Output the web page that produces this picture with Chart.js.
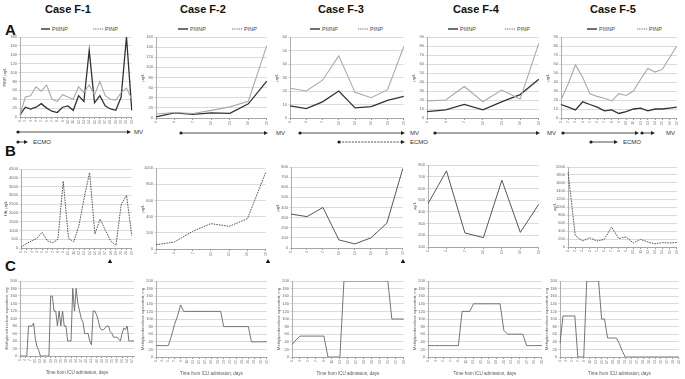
<!DOCTYPE html>
<html><head><meta charset="utf-8">
<script src="https://cdn.jsdelivr.net/npm/chart.js@4.4.1/dist/chart.umd.min.js"></script>
<style>
html,body{margin:0;padding:0;background:#fff;}
body{width:685px;height:379px;position:relative;overflow:hidden;font-family:"Liberation Sans",Arial,sans-serif;}
canvas{position:absolute;}
.t{position:absolute;color:#111;white-space:nowrap;line-height:1;}
.case{font-weight:bold;font-size:11px;}
.row{font-weight:bold;font-size:15px;}
#ann{position:absolute;left:0;top:0;}
</style></head><body>
<div class="t case" style="left:45px;top:4px">Case F-1</div>
<div class="t case" style="left:180px;top:4px">Case F-2</div>
<div class="t case" style="left:318px;top:4px">Case F-3</div>
<div class="t case" style="left:453px;top:4px">Case F-4</div>
<div class="t case" style="left:590px;top:4px">Case F-5</div>
<div class="t row" style="left:5px;top:22px">A</div>
<div class="t row" style="left:5px;top:143px">B</div>
<div class="t row" style="left:5px;top:258px">C</div>
<svg id="ann" width="685" height="379"></svg>
<script>
/* ---- data ---- */
const daysF1=['1','2','3','4','5','6','7','8','9','10','11','12','13','14','15','16','17','18','19','20','21','22'];
const daysF2=['1','4','7','10','13','16','20'];
const daysF3=['1','4','7','10','13','16','19','22'];
const daysF4=['1','4','7','10','13','16','19'];
const daysF5a=['1','2','3','4','5','6','7','8','9','10','11','12','13','14','15','16','17'];
const daysF5b=['1','2','3','4','5','6','7','8','9','10','11','12','13','14','15','16'];

const a1PIIINP=[5,22,18,22,30,20,13,10,22,25,15,48,35,150,32,48,25,18,15,45,180,15];
const a1PINP=[5,45,48,68,58,72,40,35,50,45,40,68,55,72,50,80,48,40,38,55,65,40];
const a2PIIINP=[2,10,7,10,9,28,73];
const a2PINP=[8,11,9,15,22,33,143];
const a3PIIINP=[9,7,12,20,7.5,8.5,13,16];
const a3PINP=[22,20,28,46,19,15,21,53];
const a4PIIINP=[7,9,15,9,18,26,43];
const a4PINP=[19,20,35,18,31,21,83];
const a5PIIINP=[15,12,9,18,15,12,8,9,5,7,10,11,8,10,10,11,12];
const a5PINP=[20,38,59,45,27,24,22,19,27,25,30,43,55,51,54,67,80];

const b1=[50,250,400,550,900,400,300,500,3800,550,350,1300,2900,4300,800,1650,1000,400,150,2500,3000,700];
const b2=[53,86,218,313,280,375,950];
const b3=[335,310,400,80,40,100,245,785];
const b4=[470,750,220,180,670,225,465];
const b5=[1875,290,150,230,150,190,500,210,250,100,190,125,80,110,100,115];

const c1=[0,0,0,0,0,80,80,80,88,45,25,15,0,0,0,0,0,0,160,160,120,120,80,120,80,120,80,80,40,40,40,180,120,180,140,120,100,90,60,60,60,40,30,120,120,110,95,75,70,70,75,80,80,65,60,50,50,50,45,40,60,75,70,80,40,40,40,40];
const c2=[30,30,30,30,30,55,85,108,137,120,120,120,120,120,120,120,120,120,120,120,120,120,80,80,80,80,80,80,80,80,80,40,40,40,40,40,40];
const c3=[33,45,55,55,55,55,55,55,55,0,0,0,0,200,200,200,200,200,200,200,200,200,200,200,200,100,100,100,100];
const c4=[30,30,30,30,30,30,30,30,30,120,120,120,140,140,140,140,140,140,140,140,70,60,60,60,60,60,30,30,30,30,30];
const c5=[35,108,108,108,108,108,0,0,0,200,200,200,200,200,100,100,50,50,50,50,35,15,0,0,0,0,0,0,0,0,0,0,0,0,0,0,0,0,0,0,0];

const seq=n=>Array.from({length:n},(_,i)=>String(i+1));

Chart.defaults.font.family='"Liberation Sans", Arial, sans-serif';
Chart.defaults.color='#666';

function mk(L,T,R,B,yw,xh,labels,sets,y,xTitle){
  const cv=document.createElement('canvas');
  const left=L-yw,top=T-4,w=R-left+4,h=B-top+xh;
  cv.width=w;cv.height=h;cv.style.left=left+'px';cv.style.top=top+'px';
  cv.style.width=w+'px';cv.style.height=h+'px';
  document.body.appendChild(cv);
  new Chart(cv,{type:'line',data:{labels:labels,datasets:sets},options:{
    responsive:false,animation:false,devicePixelRatio:1,
    layout:{padding:{top:4,right:4,left:0,bottom:0}},
    plugins:{legend:{display:false},tooltip:{enabled:false}},
    elements:{point:{radius:0},line:{tension:0}},
    scales:{
      x:{ticks:{font:{size:3.5},color:'#777',maxRotation:90,minRotation:90,autoSkipPadding:0,padding:1},
         grid:{display:true,drawOnChartArea:false,tickLength:2,color:'#999'},
         border:{color:'#999',width:0.8},
         title:{display:!!xTitle,text:xTitle||'',font:{size:4.5},color:'#555',padding:{top:3,bottom:0}},
         afterFit(s){s.height=xh;}},
      y:{min:y.min,max:y.max,
         ticks:{stepSize:y.step,autoSkip:false,font:{size:4},color:'#666',padding:1,callback:v=>String(v)},
         grid:{color:'#d2d2d2',lineWidth:0.8,tickLength:2},
         border:{display:true,color:'#999',width:0.8},
         title:{display:true,text:y.title,font:{size:4},color:'#555',padding:0},
         afterFit(s){s.width=yw;}}
    }}});
}
const dark=d=>({data:d,borderColor:'#333',borderWidth:1.3});
const light=d=>({data:d,borderColor:'#a9a9a9',borderWidth:1.1});
const bl=(d,dash)=>({data:d,borderColor:'#444',borderWidth:0.9,borderDash:dash?[1.6,1]:[]});
const cl=d=>({data:d,borderColor:'#666',borderWidth:0.9});

/* row A */
mk(20,37,133,117,18,8,daysF1,[light(a1PINP),dark(a1PIIINP)],{min:0,max:180,step:20,title:'PINP, µg/L'});
mk(156,37,268,118,16,8,daysF2,[light(a2PINP),dark(a2PIIINP)],{min:0,max:160,step:20,title:'µg/L'});
mk(290,37,405,118,16,8,daysF3,[light(a3PINP),dark(a3PIIINP)],{min:0,max:60,step:10,title:'µg/L'});
mk(427,37,540,118,16,8,daysF4,[light(a4PINP),dark(a4PIIINP)],{min:0,max:90,step:10,title:'µg/L'});
mk(561,37,678,118,16,8,daysF5a,[light(a5PINP),dark(a5PIIINP)],{min:0,max:90,step:10,title:'µg/L'});
/* row B */
mk(21,169,133,248,18,8,daysF1,[bl(b1,true)],{min:0,max:4500,step:500,title:'HA, µg/L'});
mk(156,168,267,249,16,8,daysF2,[bl(b2,true)],{min:0,max:1000,step:200,title:'µg/L'});
mk(291,167,404,248,16,8,daysF3,[bl(b3,false)],{min:0,max:800,step:100,title:'µg/L'});
mk(428,165,540,247,16,8,daysF4,[bl(b4,false)],{min:100,max:800,step:100,title:'µg/L'});
mk(568,167,678,247,16,8,daysF5b,[bl(b5,true)],{min:0,max:2000,step:200,title:'µg/L'});
/* row C */
const cT='Methylprednisolone equivalent, mg',xT='Time from ICU admission, days';
mk(20,281,134,356,16,19,seq(c1.length),[cl(c1)],{min:0,max:200,step:20,title:cT},xT);
mk(156,281,268,357,16,19,seq(c2.length),[cl(c2)],{min:0,max:200,step:20,title:cT},xT);
mk(292,281,405,357,16,19,seq(c3.length),[cl(c3)],{min:0,max:200,step:20,title:cT},xT);
mk(428,281,543,357,16,19,seq(c4.length),[cl(c4)],{min:0,max:200,step:20,title:cT},xT);
mk(560,281,680,357,16,19,seq(c5.length),[cl(c5)],{min:0,max:200,step:20,title:cT},xT);

/* annotations: legends, MV / ECMO bars, markers */
let s='';
function leg(x1,x2,tx,x3,x4,tx2){
  s+=`<line x1="${x1}" y1="29" x2="${x2}" y2="29" stroke="#333" stroke-width="1.4"/>`;
  s+=`<text x="${tx}" y="31" font-size="5.5" fill="#444">PIIINP</text>`;
  s+=`<line x1="${x3}" y1="29" x2="${x4}" y2="29" stroke="#555" stroke-width="0.9" stroke-dasharray="1,0.8"/>`;
  s+=`<text x="${tx2}" y="31" font-size="5.5" fill="#444">PINP</text>`;
}
leg(41,50,52,93,103,105);
leg(178,188,190,232,242,244);
leg(310,320,322,358,368,370);
leg(448,458,460,505,515,517);
leg(587,597,599,637,647,649);
function arr(x1,x2,y,dash,txt,tx){
  s+=`<circle cx="${x1}" cy="${y}" r="1.6" fill="#222"/>`;
  s+=`<line x1="${x1}" y1="${y}" x2="${x2-3}" y2="${y}" stroke="#222" stroke-width="0.8"${dash?' stroke-dasharray="2,1.2"':''}/>`;
  s+=`<polygon points="${x2-4},${y-2} ${x2},${y} ${x2-4},${y+2}" fill="#222"/>`;
  if(txt)s+=`<text x="${tx}" y="${y+2}" font-size="6" fill="#333">${txt}</text>`;
}
arr(18,131,132,false,'MV',134);
arr(18,28,142,false,'ECMO',33);
arr(181,268,133,false,'MV',276);
arr(300,405,133,false,'MV',410);
arr(339,405,142,true,'ECMO',410);
arr(435,540,133,false,'MV',547);
arr(563,639,133,false,'',0);
arr(642,655,133,false,'MV',666);
arr(591,618,142,false,'ECMO',623);
function tri(x,y){s+=`<polygon points="${x-2.2},${y+2} ${x},${y-2} ${x+2.2},${y+2}" fill="#111"/>`;}
tri(110,261);tri(268,261);tri(403,261);
document.getElementById('ann').innerHTML=s;
</script>
</body></html>
